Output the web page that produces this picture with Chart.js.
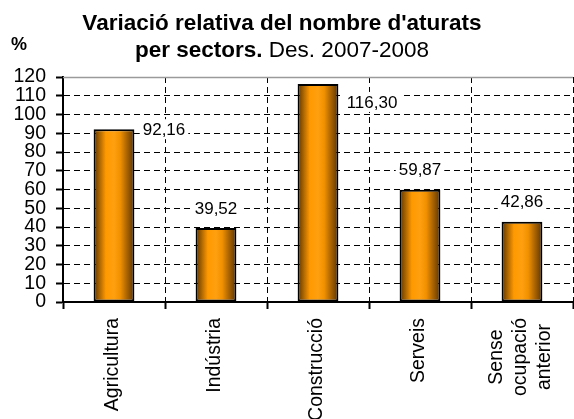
<!DOCTYPE html>
<html>
<head>
<meta charset="utf-8">
<script src="https://cdn.jsdelivr.net/npm/chart.js@4/dist/chart.umd.min.js"></script>
<style>
  html, body { margin: 0; padding: 0; background: #fff; }
  #wrap { width: 574px; height: 419px; }
</style>
</head>
<body>
<div id="wrap"><canvas id="chart" width="574" height="419"></canvas></div>
<script>
// Dades llegides del gràfic
const sectors = ['Agricultura', 'Indústria', 'Construcció', 'Serveis', ['Sense', 'ocupació', 'anterior']];
const variacio = [92.16, 39.52, 116.30, 59.87, 42.86];
const yMin = 0;
const yMax = 120;
const yStep = 10;

// desplaçament de les etiquetes de valor (px) respecte al cim de la barra
const labelDx = [50, 0, 54, 0, 0];
const labelDy = [0, -20, 18, -20, -20];

const FONT = "'Liberation Sans', Arial, sans-serif";
const BAR_PCT = 0.4;

function fmt(v) {
    return v.toFixed(2).replace('.', ',');
}

function barGradient(context) {
    const chart = context.chart;
    const xs = chart.scales.x;
    if (!chart.chartArea || !xs) return '#ff9900';
    const cx = xs.getPixelForValue(context.dataIndex);
    const half = (xs.width / sectors.length) * BAR_PCT / 2;
    const g = chart.ctx.createLinearGradient(cx - half, 0, cx + half, 0);
    g.addColorStop(0, '#5a3300');
    g.addColorStop(0.3, '#ff9900');
    g.addColorStop(0.5, '#ffa010');
    g.addColorStop(0.65, '#f29100');
    g.addColorStop(1, '#5a3300');
    return g;
}

const decorPlugin = {
    id: 'decor',
    afterDatasetsDraw(chart) {
        const ctx = chart.ctx;
        const area = chart.chartArea;
        // línia superior grisa
        ctx.save();
        ctx.strokeStyle = '#9a9a9a';
        ctx.lineWidth = 1.5;
        ctx.beginPath();
        ctx.moveTo(area.left, area.top + 0.5);
        ctx.lineTo(area.right, area.top + 0.5);
        ctx.stroke();
        ctx.restore();

        // etiquetes de valor amb fons blanc
        const meta = chart.getDatasetMeta(0);
        ctx.save();
        ctx.font = '17px ' + FONT;
        ctx.textAlign = 'center';
        ctx.textBaseline = 'middle';
        meta.data.forEach((bar, i) => {
            const txt = fmt(variacio[i]);
            const x = bar.x + labelDx[i];
            const y = bar.y + labelDy[i];
            const w = ctx.measureText(txt).width;
            ctx.fillStyle = '#fff';
            ctx.fillRect(x - w / 2 - 3, y - 10, w + 6, 20);
            ctx.fillStyle = '#000';
            ctx.fillText(txt, x, y + 1);
        });
        ctx.restore();

        // etiquetes de l'eix X, girades i amb les línies centrades
        const xs = chart.scales.x;
        ctx.save();
        ctx.font = '19.5px ' + FONT;
        ctx.fillStyle = '#000';
        ctx.textBaseline = 'middle';
        const top = area.bottom + 16;
        const lh = 24;
        sectors.forEach((lab, i) => {
            const lines = Array.isArray(lab) ? lab : [lab];
            const maxW = Math.max(...lines.map(l => ctx.measureText(l).width));
            const cx = xs.getPixelForTick(i) - 1;
            ctx.save();
            ctx.translate(cx, top);
            ctx.rotate(-Math.PI / 2);
            ctx.textAlign = 'center';
            lines.forEach((l, k) => {
                ctx.fillText(l, -maxW / 2, (k - (lines.length - 1) / 2) * lh);
            });
            ctx.restore();
        });
        ctx.restore();
    },
    afterDraw(chart) {
        const ctx = chart.ctx;
        ctx.save();
        ctx.fillStyle = '#000';
        ctx.textBaseline = 'alphabetic';
        // títol, primera línia
        ctx.font = 'bold 22.5px ' + FONT;
        ctx.textAlign = 'center';
        ctx.fillText("Variació relativa del nombre d'aturats", 282, 30);
        // segona línia: part en negreta i part normal
        const p1 = 'per sectors.';
        const p2 = ' Des. 2007-2008';
        ctx.font = 'bold 22.5px ' + FONT;
        const w1 = ctx.measureText(p1).width;
        ctx.font = '22.5px ' + FONT;
        const w2 = ctx.measureText(p2).width;
        const x0 = 282 - (w1 + w2) / 2;
        ctx.textAlign = 'left';
        ctx.font = 'bold 22.5px ' + FONT;
        ctx.fillText(p1, x0, 57);
        ctx.font = '22.5px ' + FONT;
        ctx.fillText(p2, x0 + w1, 57);
        // unitat
        ctx.font = 'bold 18px ' + FONT;
        ctx.fillText('%', 11, 50);
        ctx.restore();
    }
};

new Chart(document.getElementById('chart'), {
    type: 'bar',
    data: {
        labels: sectors,
        datasets: [{
            data: variacio,
            backgroundColor: barGradient,
            borderColor: '#000',
            borderWidth: 2,
            borderSkipped: false,
            barPercentage: BAR_PCT,
            categoryPercentage: 1
        }]
    },
    options: {
        responsive: false,
        animation: false,
        events: [],
        layout: { padding: { top: 77, right: 1, left: 0, bottom: 0 } },
        plugins: {
            legend: { display: false },
            tooltip: { enabled: false },
            title: { display: false }
        },
        scales: {
            x: {
                offset: true,
                grid: {
                    offset: true,
                    color: '#000',
                    lineWidth: 1,
                    tickLength: 7,
                    tickColor: '#000',
                    tickWidth: 2,
                    tickBorderDash: []
                },
                border: { color: '#000', width: 2, dash: [6, 4] },
                ticks: { display: false },
                afterFit(scale) {
                    scale.height = 117;
                    scale.paddingLeft = 0;
                    scale.paddingRight = 0;
                }
            },
            y: {
                min: yMin,
                max: yMax,
                grid: {
                    color: '#000',
                    lineWidth: 1,
                    tickLength: 7,
                    tickColor: '#000',
                    tickWidth: 2,
                    tickBorderDash: []
                },
                border: { color: '#000', width: 2, dash: [6, 4] },
                ticks: {
                    stepSize: yStep,
                    autoSkip: false,
                    color: '#000',
                    font: { family: FONT, size: 19.5 },
                    padding: 10
                },
                afterFit(scale) {
                    scale.width = 63;
                    scale.paddingTop = 0;
                    scale.paddingBottom = 0;
                }
            }
        }
    },
    plugins: [decorPlugin]
});
</script>
</body>
</html>
